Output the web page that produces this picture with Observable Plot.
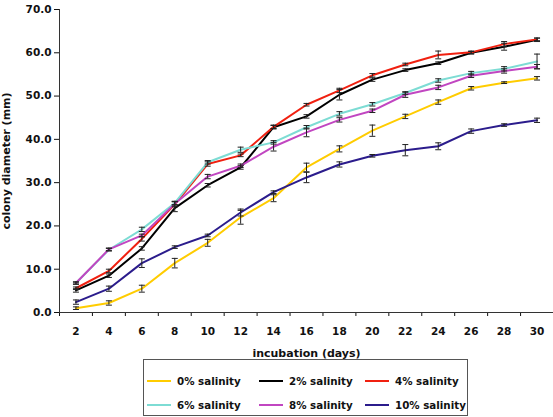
<!DOCTYPE html>
<html><head><meta charset="utf-8">
<script src="https://cdn.jsdelivr.net/npm/d3@7"></script>
<script src="https://cdn.jsdelivr.net/npm/@observablehq/plot@0.6"></script>
<style>
body{margin:0;background:#fff;}
#root{position:relative;width:553px;height:417px;font-family:"DejaVu Sans",sans-serif;font-weight:bold;}
#legend{position:absolute;left:143px;top:359px;width:325px;height:57px;border:1px solid #555;box-sizing:border-box;}
.item{position:absolute;font-size:10.3px;color:#111;display:flex;align-items:center;white-space:nowrap;}
.sw{display:inline-block;width:24px;height:2px;margin-right:6px;}
g[aria-label="x-axis label"] text, g[aria-label="y-axis label"] text{font-size:11px;}
</style>
</head><body><div id="root"></div>
<script>
const days = [2,4,6,8,10,12,14,16,18,20,22,24,26,28,30];
const seriesNames = ["0% salinity","2% salinity","4% salinity","6% salinity","8% salinity","10% salinity"];
const seriesColors = ["#FFCC00","#000000","#F02010","#7DDCD4","#C146C1","#2B1C8C"];
const s0  = [1.0, 2.2, 5.5, 11.4, 16.1, 22.0, 26.4, 33.5, 37.8, 42.0, 45.3, 48.6, 51.8, 53.1, 54.1];
const s2  = [5.1, 8.5, 14.8, 24.1, 29.4, 33.5, 42.8, 45.3, 50.3, 53.8, 56.0, 57.6, 60.0, 61.4, 63.0];
const s4  = [5.6, 9.6, 17.0, 25.0, 34.3, 36.3, 42.9, 48.0, 51.3, 54.8, 57.3, 59.5, 60.1, 62.0, 63.1];
const s6  = [6.8, 14.5, 19.2, 25.3, 34.7, 37.6, 39.3, 42.8, 45.9, 48.1, 50.7, 53.6, 55.3, 56.3, 58.0];
const s8  = [6.8, 14.6, 17.8, 25.1, 31.4, 33.9, 38.3, 41.6, 44.5, 46.6, 50.3, 52.0, 54.7, 55.8, 56.8];
const s10 = [2.4, 5.5, 11.4, 15.1, 17.8, 23.1, 27.8, 31.2, 34.2, 36.2, 37.5, 38.4, 41.9, 43.3, 44.4];
const e0  = [0.3, 0.5, 0.8, 1.1, 0.8, 1.6, 0.8, 1.0, 0.7, 1.3, 0.5, 0.5, 0.4, 0.2, 0.4];
const e2  = [0.4, 0.4, 0.4, 0.8, 0.4, 0.4, 0.4, 0.4, 1.2, 0.4, 0.3, 0.3, 0.3, 0.8, 0.4];
const e4  = [0.3, 0.4, 0.5, 0.6, 0.5, 0.3, 0.4, 0.3, 0.5, 0.4, 0.3, 0.9, 0.3, 0.6, 0.3];
const e6  = [0.2, 0.3, 0.5, 0.4, 0.4, 0.6, 0.4, 0.4, 0.5, 0.4, 0.3, 0.4, 0.4, 0.5, 1.7];
const e8  = [0.3, 0.3, 0.3, 0.5, 0.5, 0.4, 1.0, 1.0, 0.5, 0.4, 0.6, 0.5, 0.4, 0.5, 0.5];
const e10 = [0.5, 0.6, 1.0, 0.3, 0.3, 0.8, 0.3, 1.2, 0.6, 0.3, 1.3, 0.8, 0.5, 0.3, 0.5];
const yTicks = [0,10,20,30,40,50,60,70];
const xBoundaries = [1,3,5,7,9,11,13,15,17,19,21,23,25,27,29,31];

const values = [s0,s2,s4,s6,s8,s10];
const errors = [e0,e2,e4,e6,e8,e10];
const data = [];
seriesNames.forEach((name,i)=>days.forEach((d,j)=>data.push({series:name, day:d, v:values[i][j], e:errors[i][j]})));

const capSymbol = {draw(ctx, size){ const r = Math.sqrt(size/Math.PI); ctx.moveTo(-r,0); ctx.lineTo(r,0); }};

const plot = Plot.plot({
  width: 553, height: 362,
  marginLeft: 59, marginRight: 0, marginTop: 9, marginBottom: 50,
  style: {fontFamily: "DejaVu Sans", fontWeight: "bold", fontSize: "10.5px", color: "#111", background: "#fff"},
  x: {domain: [1,31], axis: null},
  y: {domain: [0,70], axis: null},
  color: {domain: seriesNames, range: seriesColors},
  marks: [
    Plot.axisY({ticks: yTicks, tickFormat: d3.format(".1f"), tickSize: 5, tickPadding: 3,
      label: "colony diameter (mm)", labelAnchor: "center", labelArrow: "none", labelOffset: 57}),
    Plot.axisX({ticks: xBoundaries, tickSize: 4, tickFormat: () => "", label: null}),
    Plot.axisX({ticks: days, tickSize: 0, tickPadding: 15, tickFormat: d3.format("d"),
      label: "incubation (days)", labelAnchor: "center", labelArrow: "none", labelOffset: 44}),
    Plot.ruleX([1], {y1: 0, y2: 70, stroke: "#333"}),
    Plot.ruleY([0], {stroke: "#333"}),
    Plot.line(data, {x: "day", y: "v", z: "series", stroke: "series", strokeWidth: 2}),
    Plot.ruleX(data, {x: "day", y1: d => d.v - d.e, y2: d => d.v + d.e, stroke: "#222", strokeWidth: 1}),
    Plot.dot(data, {x: "day", y: d => d.v + d.e, symbol: capSymbol, r: 3, stroke: "#222", strokeWidth: 1}),
    Plot.dot(data, {x: "day", y: d => d.v - d.e, symbol: capSymbol, r: 3, stroke: "#222", strokeWidth: 1})
  ]
});
const root = document.getElementById("root");
root.appendChild(plot);

const legend = document.createElement("div");
legend.id = "legend";
const colX = [3, 115, 221];
const rowY = [15, 39];
seriesNames.forEach((name,i)=>{
  const it = document.createElement("div");
  it.className = "item";
  it.style.left = colX[i%3] + "px";
  it.style.top = rowY[Math.floor(i/3)] + "px";
  const sw = document.createElement("span");
  sw.className = "sw"; sw.style.background = seriesColors[i];
  it.appendChild(sw);
  it.appendChild(document.createTextNode(name));
  legend.appendChild(it);
});
root.appendChild(legend);
</script>
</body></html>
